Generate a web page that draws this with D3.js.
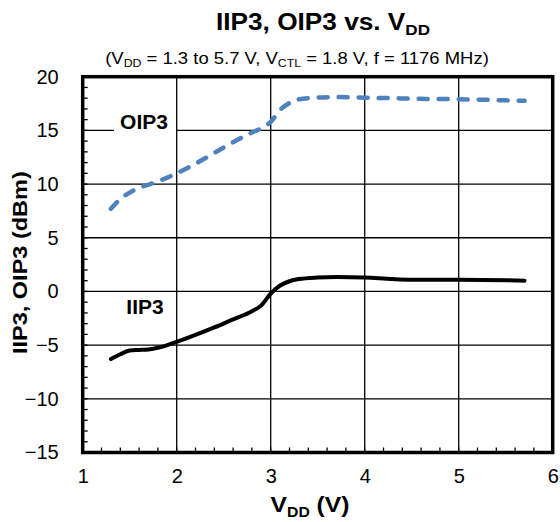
<!DOCTYPE html>
<html>
<head>
<meta charset="utf-8">
<script src="https://cdn.jsdelivr.net/npm/d3@7"></script>
<style>
  html, body { margin: 0; padding: 0; background: #fff; }
  svg { display: block; font-family: "Liberation Sans", Arial, sans-serif; }
</style>
</head>
<body>
<div id="chart"></div>
<script>
// Datos
const vdd  = [1.3, 1.4, 1.5, 1.6, 1.7, 1.8, 1.9, 2.0, 2.2, 2.4, 2.6, 2.8, 2.9, 3.0, 3.1, 3.2, 3.3, 3.5, 3.7, 4.0, 4.3, 4.5, 5.0, 5.5, 5.7];
const oip3 = [7.7, 8.6, 9.2, 9.65, 9.95, 10.25, 10.6, 11.0, 11.9, 12.9, 13.9, 14.8, 15.2, 15.8, 16.9, 17.55, 17.9, 18.05, 18.1, 18.05, 18.0, 17.95, 17.9, 17.8, 17.75];
const iip3 = [-6.3, -5.85, -5.5, -5.45, -5.4, -5.25, -5.0, -4.7, -4.05, -3.35, -2.6, -1.85, -1.3, -0.2, 0.55, 0.95, 1.15, 1.3, 1.35, 1.3, 1.15, 1.1, 1.1, 1.05, 1.0];

const xTicks = [1, 2, 3, 4, 5, 6];
const yTicks = [-15, -10, -5, 0, 5, 10, 15, 20];

const W = 560, H = 522;
const frame = { left: 82.7, right: 552.7, top: 76.7, bottom: 452.5 };

const svg = d3.select("#chart").append("svg")
  .attr("width", W).attr("height", H);

const x = d3.scaleLinear().domain([1, 6]).range([frame.left, frame.right]);
const y = d3.scaleLinear().domain([-15, 20]).range([frame.bottom, frame.top]);

// Texto un poco ensanchado, como en el original
function wideText(tx, ty, sx, rot) {
  const g = svg.append("g")
    .attr("transform", `translate(${tx},${ty})` + (rot ? ` rotate(${rot})` : "") + ` scale(${sx},1)`);
  return g.append("text").attr("text-anchor", "middle");
}

// Rejilla
svg.append("g")
  .selectAll("line")
  .data(xTicks.slice(1, -1))
  .join("line")
  .attr("x1", d => x(d)).attr("x2", d => x(d))
  .attr("y1", frame.top).attr("y2", frame.bottom)
  .attr("stroke", "#000").attr("stroke-width", 1.3);

svg.append("g")
  .selectAll("line")
  .data(yTicks.slice(1, -1))
  .join("line")
  .attr("x1", frame.left).attr("x2", frame.right)
  .attr("y1", d => y(d)).attr("y2", d => y(d))
  .attr("stroke", "#000").attr("stroke-width", 1.3);

// Marcas menores hacia dentro
const xMinor = d3.range(1, 6.001, 0.2);
const yMinor = d3.range(-15, 20.001, 1);

svg.append("g")
  .selectAll("line")
  .data(xMinor)
  .join("line")
  .attr("x1", d => x(d)).attr("x2", d => x(d))
  .attr("y1", frame.bottom).attr("y2", frame.bottom - 5)
  .attr("stroke", "#000").attr("stroke-width", 1.3);

svg.append("g")
  .selectAll("line")
  .data(yMinor)
  .join("line")
  .attr("x1", frame.left).attr("x2", frame.left + 5)
  .attr("y1", d => y(d)).attr("y2", d => y(d))
  .attr("stroke", "#000").attr("stroke-width", 1.3);

// Etiquetas de ejes
const xAxis = d3.axisBottom(x).tickValues(xTicks).tickFormat(d3.format("d")).tickSize(0).tickPadding(16);
const yAxis = d3.axisLeft(y).tickValues(yTicks).tickFormat(d3.format("d")).tickSize(0).tickPadding(24);

const gx = svg.append("g")
  .attr("transform", `translate(0,${frame.bottom})`)
  .call(xAxis);
const gy = svg.append("g")
  .attr("transform", `translate(${frame.left},0)`)
  .call(yAxis);

[gx, gy].forEach(g => {
  g.select(".domain").remove();
  g.selectAll("text")
    .attr("font-family", "Liberation Sans, Arial, sans-serif")
    .attr("font-size", 20)
    .attr("fill", "#000");
});

// Curvas
const line = d3.line()
  .x(d => x(d[0]))
  .y(d => y(d[1]))
  .curve(d3.curveMonotoneX);

const labelBg = svg.append("g");

svg.append("path")
  .datum(vdd.map((v, i) => [v, iip3[i]]))
  .attr("d", line)
  .attr("fill", "none")
  .attr("stroke", "#000")
  .attr("stroke-width", 4)
  .attr("stroke-linecap", "round");

svg.append("path")
  .datum(vdd.map((v, i) => [v, oip3[i]]))
  .attr("d", line)
  .attr("fill", "none")
  .attr("stroke", "#4f81bd")
  .attr("stroke-width", 4.5)
  .attr("stroke-dasharray", "9,11")
  .attr("stroke-linecap", "round");

// Etiquetas de series con fondo blanco
const seriesLabels = [
  { text: "OIP3", cx: 144, base: 129, x0: 114, x1: 176, y0: 110, y1: 134 },
  { text: "IIP3", cx: 145, base: 314, x0: 119, x1: 171, y0: 295, y1: 319 }
];
seriesLabels.forEach(l => {
  labelBg.append("rect")
    .attr("x", l.x0).attr("y", l.y0)
    .attr("width", l.x1 - l.x0).attr("height", l.y1 - l.y0)
    .attr("fill", "#fff");
  svg.append("text")
    .attr("x", l.cx).attr("y", l.base)
    .attr("text-anchor", "middle")
    .attr("font-size", 21).attr("font-weight", "bold")
    .text(l.text);
});

// Marco
svg.append("rect")
  .attr("x", frame.left).attr("y", frame.top)
  .attr("width", frame.right - frame.left)
  .attr("height", frame.bottom - frame.top)
  .attr("fill", "none")
  .attr("stroke", "#000").attr("stroke-width", 3.5);

// Títulos
const title = wideText(323, 30, 1.14)
  .attr("font-size", 23).attr("font-weight", "bold");
title.append("tspan").text("IIP3, OIP3 vs. V");
title.append("tspan").attr("font-size", 15).attr("dy", 5).text("DD");

const sub = wideText(297, 64, 1.12)
  .attr("font-size", 16.5);
sub.append("tspan").text("(V");
sub.append("tspan").attr("font-size", 11).attr("dy", 3).text("DD");
sub.append("tspan").attr("dy", -3).text(" = 1.3 to 5.7 V, V");
sub.append("tspan").attr("font-size", 11).attr("dy", 3).text("CTL");
sub.append("tspan").attr("dy", -3).text(" = 1.8 V, f = 1176 MHz)");

const xt = wideText(310, 512, 1.12)
  .attr("font-size", 22).attr("font-weight", "bold");
xt.append("tspan").text("V");
xt.append("tspan").attr("font-size", 14).attr("dy", 5).text("DD");
xt.append("tspan").attr("dy", -5).text(" (V)");

wideText(27, (frame.top + frame.bottom) / 2 - 2, 1.12, -90)
  .attr("font-size", 21).attr("font-weight", "bold")
  .text("IIP3, OIP3 (dBm)");
</script>
</body>
</html>
